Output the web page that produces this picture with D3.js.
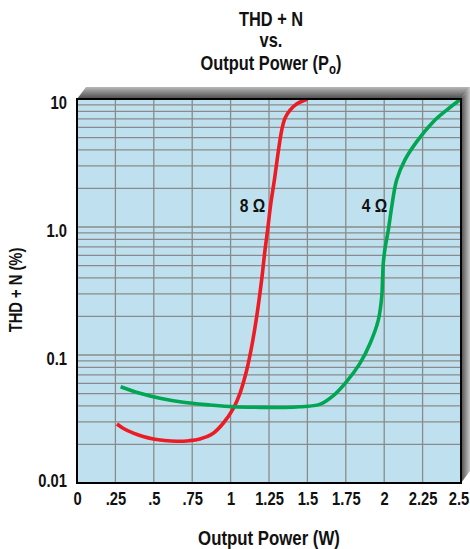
<!DOCTYPE html>
<html><head><meta charset="utf-8">
<script src="https://cdn.jsdelivr.net/npm/d3@7"></script>
<style>
html,body{margin:0;padding:0;background:#fff;}
svg text{font-family:"Liberation Sans",Arial,sans-serif;font-weight:bold;fill:#111;}
</style></head>
<body>
<svg id="c" width="470" height="549"></svg>
<script>
const xTicks = [0, 0.25, 0.5, 0.75, 1, 1.25, 1.5, 1.75, 2, 2.25, 2.5];
const xTickLabels = ["0", ".25", ".5", ".75", "1", "1.25", "1.5", "1.75", "2", "2.25", "2.5"];
const yTicks = [10, 1, 0.1, 0.01];
const yTickLabels = ["10", "1.0", "0.1", "0.01"];

const ohm8X = [0.26, 0.30, 0.367, 0.43, 0.497, 0.57, 0.649, 0.73, 0.80, 0.887, 0.952, 1.018, 1.061, 1.105, 1.137, 1.17, 1.202, 1.224, 1.241, 1.262, 1.285, 1.315, 1.333, 1.354, 1.387, 1.43, 1.5];
const ohm8Y = [0.0289, 0.0268, 0.0245, 0.0231, 0.0221, 0.0215, 0.0212, 0.0214, 0.0221, 0.0245, 0.0293, 0.0383, 0.0502, 0.0763, 0.116, 0.20, 0.385, 0.661, 0.948, 1.53, 2.33, 4.24, 5.72, 7.07, 8.2, 9.14, 10];

const ohm4X = [0.284, 0.41, 0.54, 0.692, 0.866, 1.018, 1.191, 1.35, 1.452, 1.58, 1.669, 1.755, 1.842, 1.908, 1.962, 1.984, 1.989, 1.994, 2.007, 2.027, 2.049, 2.081, 2.135, 2.212, 2.32, 2.407, 2.5];
const ohm4Y = [0.0565, 0.0502, 0.0459, 0.0427, 0.0407, 0.0394, 0.039, 0.0389, 0.0394, 0.0411, 0.0481, 0.0619, 0.086, 0.123, 0.188, 0.286, 0.385, 0.52, 0.70, 0.948, 1.44, 2.33, 3.34, 4.64, 6.65, 8.2, 10];

const seriesNames = ["8 Ω", "4 Ω"];
const seriesColors = ["#ed1c24", "#00a651"];
const labelPos = [[1.225, 1.3], [2.02, 1.3]];

const SX = 0.82; // condensed type
const svg = d3.select("#c");
const L = 77, R = 461, T = 99, B = 483;
const x = d3.scaleLinear().domain([0, 2.5]).range([L, R]);
const y = d3.scaleLog().domain([0.01, 10]).range([B, T]);

function condense(sel) {
  sel.each(function () {
    const t = d3.select(this);
    const tx = +t.attr("x") || 0, ty = +t.attr("y") || 0;
    t.attr("x", 0).attr("y", 0).attr("transform", `translate(${tx},${ty}) scale(${SX},1)`);
  });
}

// 3D extrusion
const defs = svg.append("defs");
const gt = defs.append("linearGradient").attr("id","gt").attr("x1",0).attr("y1",0).attr("x2",0).attr("y2",1);
gt.append("stop").attr("offset","0%").attr("stop-color","#b8b8b8");
gt.append("stop").attr("offset","100%").attr("stop-color","#4a4a4a");
const gr = defs.append("linearGradient").attr("id","gr").attr("x1",0).attr("y1",0).attr("x2",1).attr("y2",0);
gr.append("stop").attr("offset","0%").attr("stop-color","#4a4a4a");
gr.append("stop").attr("offset","100%").attr("stop-color","#c8c8c8");
const dx = 9, dy = 12;
svg.append("polygon").attr("points", `${L},${T} ${L+dx},${T-dy} ${R+dx},${T-dy} ${R},${T}`).attr("fill","url(#gt)");
svg.append("polygon").attr("points", `${R},${T} ${R+dx},${T-dy} ${R+dx},${B-dy} ${R},${B}`).attr("fill","url(#gr)");

// plot background
svg.append("rect").attr("x",L).attr("y",T).attr("width",R-L).attr("height",B-T).attr("fill","#bfe1ef");

// grid
const g = svg.append("g");
const minor = [];
[0.01, 0.1, 1].forEach(d => { for (let k = 1; k <= 9; k++) minor.push(d * k); });
g.selectAll("line.h").data(minor.filter(v => v > 0.01)).enter().append("line")
  .attr("x1", L).attr("x2", R).attr("y1", d => y(d)).attr("y2", d => y(d))
  .attr("stroke", "#8a8a8a").attr("stroke-width", 1.3);
g.selectAll("line.v").data(xTicks.slice(1, -1)).enter().append("line")
  .attr("y1", T).attr("y2", B).attr("x1", d => x(d)).attr("x2", d => x(d))
  .attr("stroke", "#8a8a8a").attr("stroke-width", 1.3);

// curves
const line = d3.line().x(d => x(d[0])).y(d => y(d[1])).curve(d3.curveCatmullRom.alpha(0.5));
const series = [d3.zip(ohm8X, ohm8Y), d3.zip(ohm4X, ohm4Y)];
series.forEach((s, i) => {
  svg.append("path").datum(s).attr("d", line).attr("fill","none")
    .attr("stroke", seriesColors[i]).attr("stroke-width", 3.6).attr("stroke-linecap","butt");
});

// labels
seriesNames.forEach((n, i) => {
  svg.append("text").attr("x", x(labelPos[i][0])).attr("y", y(labelPos[i][1]))
    .attr("text-anchor","end").attr("font-size", 19).text(n).call(condense);
});

// frame
svg.append("rect").attr("x",L).attr("y",T).attr("width",R-L).attr("height",B-T)
  .attr("fill","none").attr("stroke","#000").attr("stroke-width",2);

// axes
const xAxis = d3.axisBottom(x).tickValues(xTicks).tickSize(0).tickFormat((d, i) => xTickLabels[i]);
const xa = svg.append("g").attr("transform", `translate(0,${B})`).call(xAxis);
xa.select(".domain").remove();
xa.selectAll("text").attr("font-size", 18).attr("dy", null).attr("y", 22)
  .attr("x", d => d === 2.5 ? -2.5 : 0).style("fill","#111").call(condense);

const yAxis = d3.axisLeft(y).tickValues(yTicks).tickSize(0).tickFormat((d, i) => yTickLabels[i]);
const ya = svg.append("g").attr("transform", `translate(${L},0)`).call(yAxis);
ya.select(".domain").remove();
ya.selectAll("text").attr("font-size", 18).attr("x", -10).attr("dy", null)
  .attr("y", d => d === 0.01 ? 3 : 9).style("fill","#111").call(condense);

// titles
const tg = svg.append("g").attr("transform", `translate(271,0) scale(${SX},1)`);
const title = tg.append("text").attr("text-anchor","middle").attr("font-size", 20);
title.append("tspan").attr("x", 0).attr("y", 26).text("THD + N");
title.append("tspan").attr("x", 0).attr("y", 47).text("vs.");
const t3 = tg.append("text").attr("x", 0).attr("y", 70).attr("text-anchor","middle").attr("font-size", 20);
t3.append("tspan").text("Output Power (P");
t3.append("tspan").attr("font-size", 14).attr("dy", 4).text("o");
t3.append("tspan").attr("dy", -4).text(")");

svg.append("text").attr("x", 269).attr("y", 545).attr("text-anchor","middle").attr("font-size", 20.5).text("Output Power (W)").call(condense);
svg.append("g").attr("transform","translate(22,290) rotate(-90)")
  .append("text").attr("text-anchor","middle").attr("font-size", 18).text("THD + N (%)").call(condense);
</script>
</body></html>
